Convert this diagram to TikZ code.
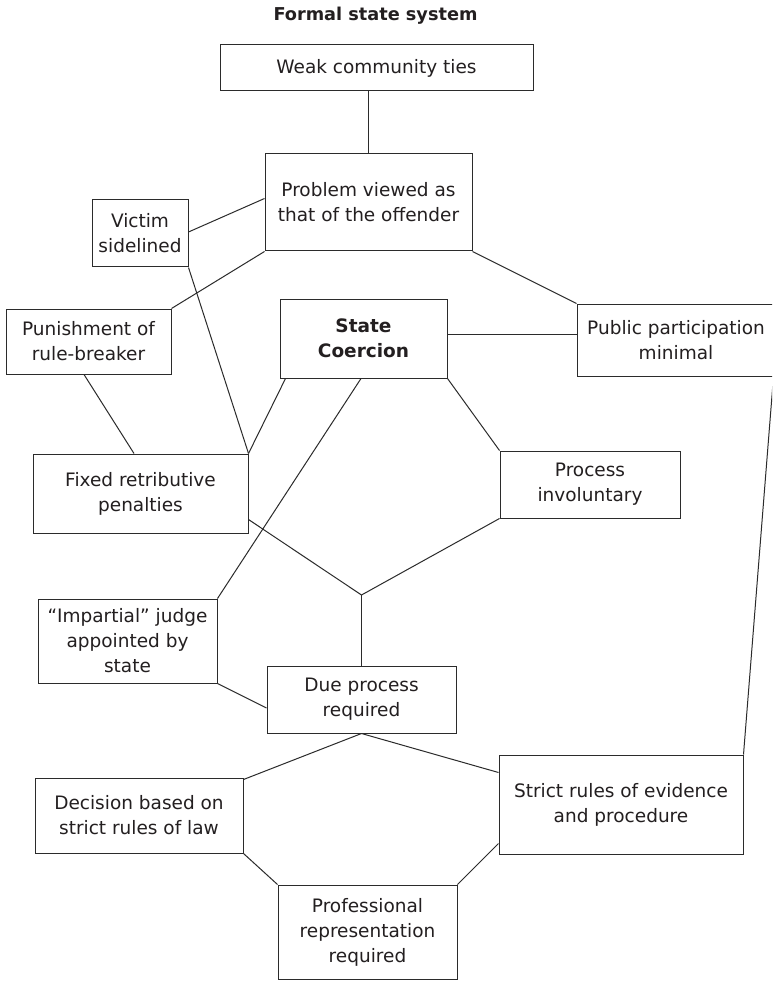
\documentclass[tikz,border=0pt]{standalone}
\usepackage{fontspec}
\setmainfont{DejaVu Sans}
\definecolor{ink}{HTML}{231F20}
\definecolor{edge}{HTML}{2B2B2B}
\begin{document}
\begin{tikzpicture}[x=1pt,y=-1pt,
  box/.style={draw=edge, line width=1pt, align=center, inner sep=0pt, text=ink,
    font=\fontsize{18.5}{25}\selectfont},
  link/.style={draw=edge, line width=1pt}]
\useasboundingbox (0,0) rectangle (772,981);
\clip (0,0) rectangle (772,981);
\fill[white] (0,0) rectangle (772,981);

\node[text=ink, inner sep=0pt, font=\fontsize{17.7}{24}\selectfont\bfseries] (title) at (375.5,16) {Formal state system};

\node[box, minimum width=313pt, minimum height=46pt] (weak) at (376.5,68) {Weak community ties};
\node[box, minimum width=207pt, minimum height=97pt] (problem) at (368.5,202.5) {Problem viewed as\\that of the offender};
\node[box, minimum width=96pt, minimum height=67pt] (victim) at (140,233.5) {Victim\\sidelined};
\node[box, minimum width=165pt, minimum height=65pt] (punish) at (88.5,341.5) {Punishment of\\rule-breaker};
\node[box, minimum width=167pt, minimum height=79pt, font=\fontsize{18.5}{25}\selectfont\bfseries] (state) at (363.5,338.5) {State\\Coercion};
\node[box, minimum width=198pt, minimum height=72pt] (public) at (676,340) {Public participation\\minimal};
\node[box, minimum width=215pt, minimum height=79pt] (fixed) at (140.5,493.5) {Fixed retributive\\penalties};
\node[box, minimum width=180pt, minimum height=67pt] (process) at (590,484.5) {Process\\involuntary};
\node[box, minimum width=179pt, minimum height=84pt] (judge) at (127.5,641) {“Impartial” judge\\appointed by\\state};
\node[box, minimum width=189pt, minimum height=67pt] (due) at (361.5,699.5) {Due process\\required};
\node[box, minimum width=208pt, minimum height=75pt] (decision) at (139,815.5) {Decision based on\\strict rules of law};
\node[box, minimum width=244pt, minimum height=99pt] (strict) at (621,804.5) {Strict rules of evidence\\and procedure};
\node[box, minimum width=179pt, minimum height=94pt] (prof) at (367.5,932) {Professional\\representation\\required};

\coordinate (J) at (361.5,595);

\draw[link] (problem.north |- weak.south) -- (problem.north);
\draw[link] ([yshift=1.5pt]victim.east) -- ([yshift=-45pt]problem.north west);
\draw[link] (problem.south west) -- (punish.north east);
\draw[link] (problem.south east) -- (public.north west);
\draw[link] ([yshift=4.5pt]state.east) -- ([yshift=4.5pt]state.east -| public.west);
\draw[link] (victim.south east) -- (fixed.north east);
\draw[link] ([xshift=6pt]state.south west) -- (fixed.north east);
\draw[link] ([xshift=-4.5pt]punish.south) -- ([xshift=-6.5pt]fixed.north);
\draw[link] ([xshift=-2.5pt]state.south) -- (judge.north east);
\draw[link] (state.south east) -- (process.north west);
\draw[link] ([yshift=14pt]fixed.south east) -- (J);
\draw[link] (process.south west) -- (J);
\draw[link] (J) -- (due.north);
\draw[link] (judge.south east) -- ([yshift=-8.5pt]due.west);
\draw[link] (due.south) -- ([yshift=-2pt]decision.north east);
\draw[link] (due.south) -- ([yshift=-18pt]strict.north west);
\draw[link] (decision.south east) -- (prof.north west);
\draw[link] ([yshift=11pt]strict.south west) -- (prof.north east);
\draw[link] ([xshift=-2pt]public.south east) -- (strict.north east);
\end{tikzpicture}
\end{document}
